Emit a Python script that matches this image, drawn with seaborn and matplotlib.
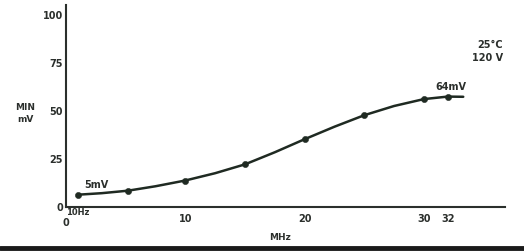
import matplotlib
matplotlib.use("Agg")
import matplotlib.pyplot as plt
import seaborn as sns
import pandas as pd
from matplotlib.lines import Line2D
from matplotlib.transforms import ScaledTranslation

# data
freq_mhz = [1.0, 5.2, 10.0, 15.0, 20.0, 25.0, 30.0, 32.0]
min_mv = [6.4, 8.5, 13.8, 22.2, 35.3, 47.8, 56.2, 57.5]
curve_x = [1.0, 3.0, 5.2, 7.5, 10.0, 12.5, 15.0, 17.5, 20.0, 22.5, 25.0, 27.5, 30.0, 32.0, 33.3]
curve_y = [6.4, 7.2, 8.5, 10.8, 13.8, 17.6, 22.2, 28.5, 35.3, 41.8, 47.8, 52.6, 56.2, 57.5, 57.4]
x_ticks = [1, 10, 20, 30, 32]
x_tick_labels = ["10Hz", "10", "20", "30", "32"]
y_ticks = [0, 25, 50, 75, 100]

sns.set_theme(style="white")
plt.rcParams['font.family'] = ['DejaVu Sans']

ink = "#2b2f2c"
line_col = "#1f2a22"

fig = plt.figure(figsize=(5.24, 2.52), dpi=100)
ax = fig.add_axes([66/524, 45/252, (505-66)/524, (207-5)/252])

curve = pd.DataFrame({"x": curve_x, "y": curve_y})
pts = pd.DataFrame({"x": freq_mhz, "y": min_mv})
sns.lineplot(data=curve, x="x", y="y", ax=ax, color=line_col, linewidth=1.8, sort=True)
sns.scatterplot(data=pts, x="x", y="y", ax=ax, color=line_col, s=20, edgecolor=line_col, zorder=3)

ax.set_xlim(0, 36.8)
ax.set_ylim(0, 105.2)
ax.set_xticks(x_ticks)
ax.set_xticklabels(x_tick_labels)
ax.set_yticks(y_ticks)
ax.set_xlabel("")
ax.set_ylabel("")
for s in ["top", "right"]:
    ax.spines[s].set_visible(False)
for s in ["left", "bottom"]:
    ax.spines[s].set_color(ink)
    ax.spines[s].set_linewidth(1.5)
ax.tick_params(axis="both", direction="in", length=4, width=1, color=ink,
               labelsize=7, labelcolor=ink, pad=2)
ax.tick_params(axis="x", pad=5)
for lab in ax.get_xticklabels() + ax.get_yticklabels():
    lab.set_fontweight("bold")
first = ax.get_xticklabels()[0]
first.set_fontsize(6)
first.set_transform(first.get_transform() + ScaledTranslation(0, 4/72, fig.dpi_scale_trans))

tkw = dict(color=ink, fontweight="bold")
ax.text(-0.05, -8.5, "0", fontsize=7, ha="center", va="center", **tkw)
ax.text(1.5, 11.5, "5mV", fontsize=7, ha="left", va="center", **tkw)
ax.text(32.3, 62.5, "64mV", fontsize=7, ha="center", va="center", **tkw)
fig.text(490/524, 1-45/252, "25°C", fontsize=7, ha="center", va="center", **tkw)
fig.text(488/524, 1-58/252, "120 V", fontsize=7, ha="center", va="center", **tkw)
fig.text(25/524, 1-107/252, "MIN", fontsize=6.5, ha="center", va="center", **tkw)
fig.text(25/524, 1-119/252, "mV", fontsize=6.5, ha="center", va="center", **tkw)
fig.text(280/524, 1-238/252, "MHz", fontsize=6.5, ha="center", va="center", **tkw)

fig.add_artist(Line2D([0, 1], [1-248/252, 1-248/252], transform=fig.transFigure,
                      color="#1a1a1a", linewidth=3.5))

fig.savefig("out.png", dpi=100)
